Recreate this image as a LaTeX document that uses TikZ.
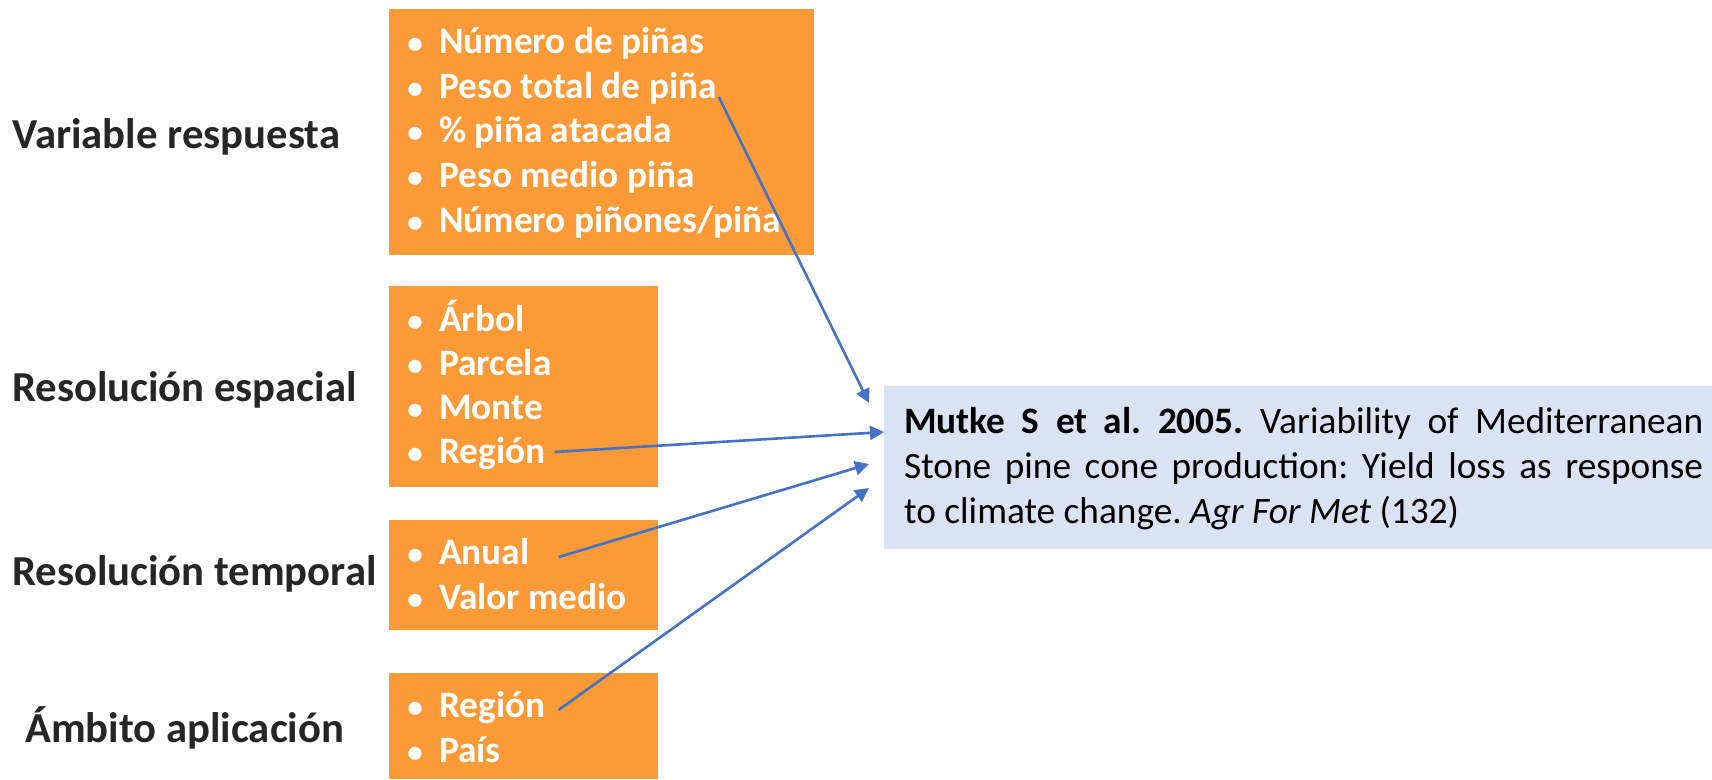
\documentclass[tikz,border=0pt]{standalone}
\usepackage{fontspec}
\setmainfont{Carlito}
\usetikzlibrary{arrows.meta,calc}
\definecolor{orng}{HTML}{FC9A37}
\definecolor{lblue}{HTML}{DAE3F3}
\definecolor{arrowblue}{HTML}{4472C4}
\definecolor{dark}{HTML}{262626}
\hbadness=10000
\frenchspacing
\tikzset{
  obox/.style={fill=orng, draw=none, anchor=north west, inner sep=0pt},
  item/.style={anchor=base west, inner sep=0pt, text=white, font=\fontsize{37.3}{45}\selectfont\bfseries},
  bul/.style={anchor=base, inner sep=0pt, text=white, font=\fontsize{31}{36}\selectfont\bfseries},
  lbl/.style={anchor=base west, inner sep=0pt, text=dark, font=\fontsize{42.7}{50}\selectfont\bfseries},
  conn/.style={draw=arrowblue, line width=2.6pt, -{Triangle[length=14pt,width=14pt]}},
}
\begin{document}
\begin{tikzpicture}[x=1pt,y=-1pt]
\useasboundingbox (0,0) rectangle (1712,779);

% left labels
\node[lbl] (l1) at (12,148) {Variable respuesta};
\node[lbl] (l2) at (12,401) {Resolución espacial};
\node[lbl] (l3) at (12,585) {Resolución temporal};
\node[lbl] (l4) at (25,742) {Ámbito aplicación};

% orange boxes
\node[obox, minimum width=425pt, minimum height=246pt] (b1) at (389,9) {};
\node[obox, minimum width=269pt, minimum height=201pt] (b2) at (389,286) {};
\node[obox, minimum width=269pt, minimum height=110pt] (b3) at (389,520) {};
\node[obox, minimum width=269pt, minimum height=106pt] (b4) at (389,673) {};

% box 1 items
\foreach \y/\t/\n in {53/{Número de piñas}/a1, 98/{Peso total de piña}/a2, 142/{\% piña atacada}/a3, 187/{Peso medio piña}/a4, 232/{Número piñones/piña}/a5}{
  \node[bul] (bu\n) at (415,\y) {•};
  \node[item] (\n) at (439,\y) {\t};
}
% box 2 items
\foreach \y/\t/\n in {331/Árbol/c1, 375/Parcela/c2, 419/Monte/c3, 463/Región/c4}{
  \node[bul] (bu\n) at (415,\y) {•};
  \node[item] (\n) at (439,\y) {\t};
}
% box 3 items
\foreach \y/\t/\n in {564/Anual/d1, 609/{Valor medio}/d2}{
  \node[bul] (bu\n) at (415,\y) {•};
  \node[item] (\n) at (439,\y) {\t};
}
% box 4 items
\foreach \y/\t/\n in {717/Región/f1, 762/País/f2}{
  \node[bul] (bu\n) at (415,\y) {•};
  \node[item] (\n) at (439,\y) {\t};
}

% reference box
\node[fill=lblue, draw=none, anchor=north west, inner sep=0pt, minimum width=828pt, minimum height=163pt] (ref) at (884,386) {};
\node[anchor=north west, inner sep=0pt, text width=799pt, align=justify,
      font=\fontsize{37.3}{45}\selectfont] (reftext) at (904,407)
  {\textbf{Mutke S et al. 2005.} Variability of Mediterranean\linebreak
   Stone pine cone production: Yield loss as response\linebreak
   to climate change. \textit{Agr For Met} (132)};

% connector start points
\coordinate (s1) at ($(a2.base east)+(2,-1)$);
\coordinate (s2) at ($(c4.base east)+(9,-11)$);
\coordinate (s3) at ($(d1.base east)+(29,-7)$);
\coordinate (s4) at ($(f1.base east)+(13,-7)$);

\draw[conn] (s1) -- ($(ref.north west)+(-15,17)$);
\draw[conn] (s2) -- ($(ref.north west)+(0,46)$);
\draw[conn] (s3) -- ($(ref.north west)+(-15,78)$);
\draw[conn] (s4) -- ($(ref.north west)+(-15,102)$);
\end{tikzpicture}
\end{document}
